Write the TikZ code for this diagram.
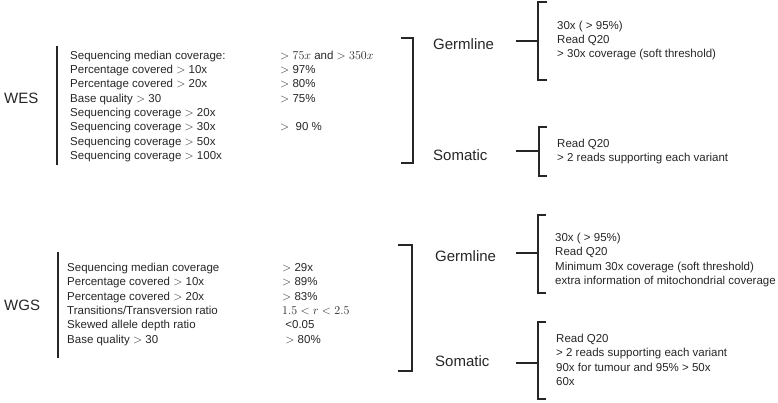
\documentclass[tikz,border=0pt]{standalone}
\usepackage{fontspec}
\setmainfont{Liberation Sans}
\usepackage{tikz}

\begin{document}
\begin{tikzpicture}[
    x=1pt, y=-1pt,
    every node/.style={inner sep=0pt, text=black!85},
    title/.style={anchor=west, font=\fontsize{15}{18}\selectfont},
    list/.style={anchor=north west, align=left, font=\fontsize{11.5}{14.3}\selectfont},
    bar/.style={line width=1.6pt, black!85},
    brace/.style={line width=1.2pt, black!85}
]
    \useasboundingbox (0,0) rectangle (778,402);

    % WES block
    \node[title] (wes) at (4, 98) {WES};
    \draw[bar] (57, 46) -- (57, 165);
    \node[list] (wesl) at (70, 49) {\strut Sequencing median coverage:\\Percentage covered $>$ 10x\\Percentage covered $>$ 20x\\Base quality $>$ 30\\Sequencing coverage $>$ 20x\\Sequencing coverage $>$ 30x\\Sequencing coverage $>$ 50x\\Sequencing coverage $>$ 100x};
    \node[list] (wesv) at (280, 49) {\strut $>75x$ and $>350x$\\$>$ 97\%\\$>$ 80\%\\$>$ 75\%\\\strut\\$>$ \ 90 \%};
    \draw[brace] (401, 38) -- (413, 38) -- (413, 163) -- (401, 163);

    % WES branches
    \node[title] (wesg) at (433, 44) {Germline};
    \node[title] (wess) at (433, 155) {Somatic};
    \coordinate (wesg1) at (516, 41);
    \coordinate (wesg2) at (538, 41);
    \coordinate (wess1) at (516, 151);
    \coordinate (wess2) at (539, 151);
    \draw[brace] (wesg1) -- (wesg2);
    \draw[brace] (wess1) -- (wess2);
    \draw[brace] (547, 2) -- (538, 2) -- (538, 80) -- (547, 80);
    \draw[brace] (547, 127) -- (539, 127) -- (539, 176) -- (547, 176);
    \node[list] (wesgt) at (557, 19) {\strut 30x ( > 95\%)\\Read Q20\\> 30x coverage (soft threshold)};
    \node[list] (wesst) at (557, 137) {\strut Read Q20\\> 2 reads supporting each variant};

    % WGS block
    \node[title] (wgs) at (4, 305) {WGS};
    \draw[bar] (58, 252) -- (58, 358);
    \node[list] (wgsl) at (67, 261.3) {\strut Sequencing median coverage\\Percentage covered $>$ 10x\\Percentage covered $>$ 20x\\Transitions/Transversion ratio\\Skewed allele depth ratio\\Base quality $>$ 30};
    \node[list] (wgsv) at (282, 261.3) {\strut $>$ 29x\\$>$ 89\%\\$>$ 83\%\\$1.5<r<2.5$\\\ <0.05\\\ $>$ 80\%};
    \draw[brace] (398, 245) -- (412, 245) -- (412, 371) -- (398, 371);

    % WGS branches
    \node[title] (wgsg) at (435, 256) {Germline};
    \node[title] (wgss) at (435, 361) {Somatic};
    \coordinate (wgsg1) at (516, 253);
    \coordinate (wgsg2) at (538, 253);
    \coordinate (wgss1) at (516, 363);
    \coordinate (wgss2) at (538, 363);
    \draw[brace] (wgsg1) -- (wgsg2);
    \draw[brace] (wgss1) -- (wgss2);
    \draw[brace] (546, 215) -- (538, 215) -- (538, 293) -- (546, 293);
    \draw[brace] (546, 322) -- (538, 322) -- (538, 399) -- (546, 399);
    \node[list] (wgsgt) at (555, 231.3) {\strut 30x ( > 95\%)\\Read Q20\\Minimum 30x coverage (soft threshold)\\extra information of mitochondrial coverage};
    \node[list] (wgsst) at (556, 332.3) {\strut Read Q20\\> 2 reads supporting each variant\\90x for tumour and 95\% > 50x\\60x};

\end{tikzpicture}
\end{document}
